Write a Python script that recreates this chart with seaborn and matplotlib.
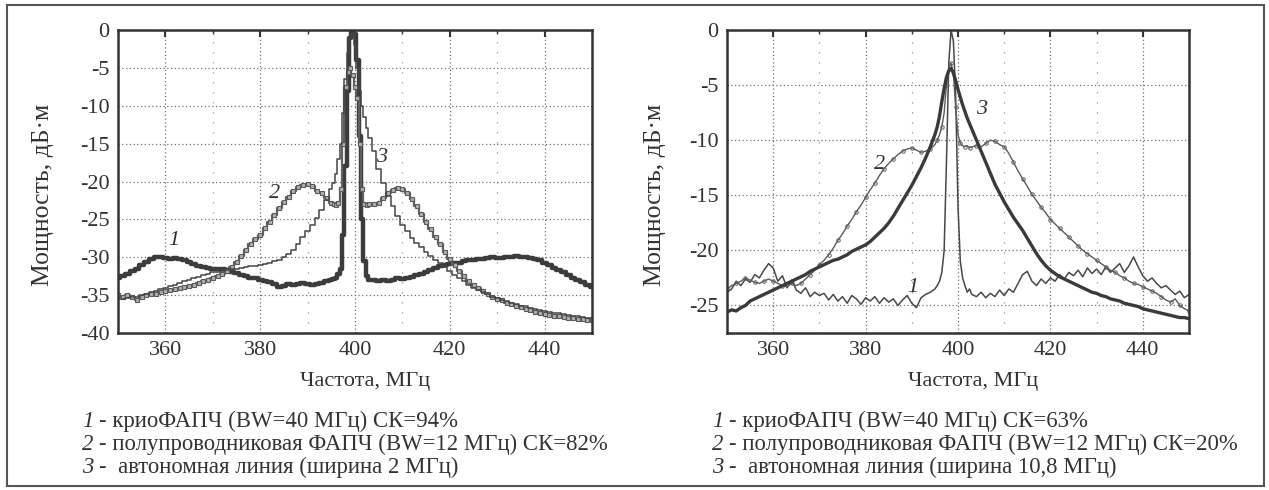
import numpy as np
import seaborn as sns
import matplotlib.pyplot as plt
from matplotlib.ticker import MultipleLocator
from matplotlib.patches import Rectangle

# frequency grid, MHz (finer steps around the carrier)
freq = np.concatenate([np.arange(350, 395.5, 1), np.arange(395.5, 403.5, 0.5), np.arange(404, 451, 1)])

# left panel: 1 - cryo PLL, 2 - semiconductor PLL, 3 - free running line
left_1 = [-32.8, -32.5, -32.2, -31.8, -31.5, -31.0, -30.6, -30.2, -30.0, -30.0,
          -30.1, -30.2, -30.1, -30.2, -30.4, -30.6, -30.9, -31.1, -31.3, -31.4,
          -31.5, -31.6, -31.6, -31.7, -31.9, -32.1, -32.3, -32.5, -32.7, -32.8,
          -33.0, -33.1, -33.3, -33.5, -33.9, -33.8, -33.5, -33.6, -33.5, -33.4,
          -33.5, -33.6, -33.5, -33.4, -33.2, -33.0,
          -32.9, -32.7, -32.2, -31.5, -27.0, -18.0, -8.0, -1.0, 0.0, -0.5, -4.0, -14.0, -25.0, -30.5, -32.5, -33.0,
          -33.0, -33.1, -33.0, -33.2, -33.0, -32.8, -32.9, -32.7, -32.6, -32.4,
          -32.2, -32.0, -31.7, -31.4, -31.2, -31.0, -30.9, -30.8, -30.7, -30.5,
          -30.4, -30.3, -30.2, -30.2, -30.1, -30.0, -30.1, -30.1, -30.0, -30.0,
          -29.9, -30.0, -30.0, -30.1, -30.2, -30.4, -30.7, -31.0, -31.4, -31.7,
          -32.0, -32.3, -32.7, -33.0, -33.3, -33.6, -33.9]
left_2 = [-35.0, -35.2, -35.0, -35.3, -35.6, -35.2, -35.0, -34.8, -34.8, -34.6,
          -34.5, -34.3, -34.2, -34.0, -33.9, -33.8, -33.6, -33.4, -33.2, -33.0,
          -32.8, -32.5, -32.2, -31.8, -31.3, -30.6, -29.8, -29.0, -28.3, -27.6,
          -27.0, -26.2, -25.3, -24.4, -23.5, -22.7, -22.0, -21.3, -20.7, -20.4,
          -20.3, -20.6, -21.2, -21.5, -22.2, -22.8,
          -23.0, -23.1, -22.8, -21.0, -15.0, -7.5, -5.5, -5.0, -6.0, -7.5, -9.0, -15.0, -21.0, -23.0, -23.1, -23.0,
          -23.0, -22.8, -22.2, -21.5, -21.1, -20.8, -21.0, -21.5, -22.3, -23.2,
          -24.3, -25.3, -26.3, -27.3, -28.3, -29.3, -30.2, -31.0, -31.8, -32.5,
          -33.1, -33.6, -34.1, -34.5, -34.9, -35.2, -35.5, -35.7, -36.0, -36.2,
          -36.4, -36.6, -36.8, -37.0, -37.2, -37.3, -37.5, -37.6, -37.7, -37.8,
          -37.9, -38.0, -38.0, -38.1, -38.2, -38.3, -38.3]
left_3 = [-35.5, -35.5, -35.4, -35.3, -35.2, -35.0, -34.8, -34.6, -34.4, -34.2,
          -34.0, -33.8, -33.6, -33.4, -33.2, -33.0, -32.8, -32.6, -32.4, -32.2,
          -32.0, -31.9, -31.8, -31.7, -31.6, -31.5, -31.4, -31.3, -31.2, -31.1,
          -31.0, -30.9, -30.7, -30.5, -30.3, -30.0, -29.6, -29.0, -28.3, -27.3,
          -26.5, -25.7, -24.8, -23.8, -22.5, -21.0,
          -20.2, -19.0, -17.0, -15.0, -11.0, -6.5, -3.0, -1.0, -0.5, -2.0, -5.0, -8.0, -10.0, -11.5, -13.0, -14.3,
          -16.0, -18.3, -20.2, -21.9, -23.3, -24.6, -25.7, -26.6, -27.4, -28.1,
          -28.7, -29.3, -29.8, -30.3, -30.8, -31.3, -31.8, -32.3, -32.8, -33.2,
          -33.6, -34.0, -34.3, -34.6, -34.9, -35.2, -35.4, -35.6, -35.8, -36.0,
          -36.2, -36.4, -36.5, -36.7, -36.8, -37.0, -37.1, -37.2, -37.3, -37.4,
          -37.5, -37.6, -37.7, -37.8, -37.9, -38.0, -38.0]

# right panel
right_1 = [-23.8, -23.5, -22.8, -23.2, -22.6, -22.9, -22.2, -22.5, -21.8, -21.2,
           -21.6, -22.8, -22.3, -23.4, -22.7, -23.6, -23.9, -23.4, -24.2, -23.8,
           -24.1, -23.9, -24.5, -24.0, -24.6, -24.2, -24.8, -24.1, -24.4, -24.9,
           -24.3, -24.6, -24.2, -24.8, -24.3, -24.7, -24.4, -25.0, -24.5, -24.1,
           -24.8, -25.2, -24.3, -24.0, -23.8, -23.5,
           -23.2, -22.8, -22.0, -20.0, -12.0, -3.0, 0.0, -1.0, -6.0, -16.0, -21.0, -22.5, -23.2, -23.8, -23.5, -24.0,
           -24.2, -23.8, -24.3, -23.9, -24.2, -23.6, -24.1, -23.5, -23.8, -23.0,
           -22.2, -21.9, -22.8, -23.2, -22.6, -23.0, -22.5, -22.8, -22.2, -22.6,
           -22.0, -22.3, -21.8, -22.4, -21.6, -22.1, -21.7, -22.2, -21.5, -22.0,
           -21.6, -21.2, -22.0, -21.4, -20.6, -21.5, -22.3, -22.8, -22.5, -23.0,
           -23.4, -23.2, -23.6, -24.0, -23.7, -24.3, -24.0]
right_2 = [-23.5, -23.2, -23.0, -22.8, -22.5, -22.7, -22.9, -23.0, -22.8, -22.6,
           -22.8, -23.0, -23.2, -23.3, -23.0, -23.2, -23.0, -22.6, -22.2, -21.8,
           -21.3, -20.9, -20.4, -19.8, -19.1, -18.5, -17.8, -17.2, -16.5, -15.9,
           -15.2, -14.5, -13.9, -13.2, -12.6, -12.1, -11.7, -11.3, -11.0, -10.8,
           -10.7, -10.9, -11.1, -11.0, -10.8, -10.4,
           -10.0, -9.5, -8.8, -7.5, -5.0, -3.5, -3.0, -4.0, -7.0, -9.5, -10.3, -10.5, -10.6, -10.5, -10.7, -10.6,
           -10.5, -10.6, -10.3, -10.0, -10.1, -10.4, -10.6, -11.2, -12.0, -12.8,
           -13.5, -14.2, -14.9, -15.5, -16.1, -16.6, -17.2, -17.6, -18.0, -18.4,
           -18.8, -19.2, -19.6, -20.0, -20.3, -20.6, -20.9, -21.2, -21.5, -21.8,
           -22.0, -22.3, -22.5, -22.8, -23.0, -23.1, -23.3, -23.5, -23.7, -23.9,
           -24.2, -24.5, -24.7, -24.4, -25.0, -25.3, -25.5]
right_3 = [-25.6, -25.4, -25.5, -25.2, -25.0, -24.6, -24.4, -24.2, -24.0, -23.8,
           -23.6, -23.4, -23.2, -23.0, -22.8, -22.6, -22.4, -22.2, -21.9, -21.7,
           -21.5, -21.3, -21.1, -20.9, -20.8, -20.6, -20.4, -20.1, -19.9, -19.7,
           -19.5, -19.2, -18.8, -18.4, -18.0, -17.5, -16.9, -16.2, -15.5, -14.8,
           -14.1, -13.3, -12.5, -11.6, -10.6, -9.5,
           -8.8, -7.8, -6.5, -5.3, -4.3, -3.7, -3.5, -3.9, -4.6, -5.4, -6.1, -6.8, -7.4, -8.0, -8.5, -9.0,
           -10.0, -11.0, -12.0, -13.0, -14.0, -14.8, -15.6, -16.3, -17.0, -17.6,
           -18.2, -18.9, -19.6, -20.3, -20.9, -21.4, -21.8, -22.1, -22.4, -22.6,
           -22.8, -23.0, -23.2, -23.4, -23.6, -23.8, -23.9, -24.1, -24.2, -24.4,
           -24.5, -24.6, -24.8, -24.9, -25.0, -25.1, -25.3, -25.4, -25.5, -25.6,
           -25.7, -25.8, -25.9, -26.0, -26.1, -26.1, -26.2]

captions_left = ["- криоФАПЧ (BW=40 МГц) СК=94%",
                 "- полупроводниковая ФАПЧ (BW=12 МГц) СК=82%",
                 "-  автономная линия (ширина 2 МГц)"]
captions_right = ["- криоФАПЧ (BW=40 МГц) СК=63%",
                  "- полупроводниковая ФАПЧ (BW=12 МГц) СК=20%",
                  "-  автономная линия (ширина 10,8 МГц)"]

sns.set_style("white")
plt.rcParams['font.family'] = ['Liberation Serif', 'DejaVu Serif']
plt.rcParams['axes.unicode_minus'] = False

W, H = 1269, 490
fig = plt.figure(figsize=(W / 100, H / 100), dpi=100)
ax1 = fig.add_axes([118 / W, 1 - 333 / H, 474 / W, 303 / H])
ax2 = fig.add_axes([727 / W, 1 - 333 / H, 462 / W, 303 / H])

dark = '#3c3c3c'
sns.lineplot(x=freq, y=left_1, ax=ax1, color=dark, lw=3.2, drawstyle='steps-mid')
sns.lineplot(x=freq, y=left_2, ax=ax1, color='#606060', lw=1.6, drawstyle='steps-mid',
             marker='s', markersize=3.5, markerfacecolor='#b0b0b0', markeredgecolor='#5a5a5a',
             markeredgewidth=0.8)
sns.lineplot(x=freq, y=left_3, ax=ax1, color='#454545', lw=1.1, drawstyle='steps-mid')

sns.lineplot(x=freq, y=right_1, ax=ax2, color='#484848', lw=1.1)
sns.lineplot(x=freq, y=right_2, ax=ax2, color='#5a5a5a', lw=1.0, marker='o', markersize=2.5,
             markerfacecolor='none', markeredgecolor='#606060', markeredgewidth=0.7, markevery=2)
sns.lineplot(x=freq, y=right_3, ax=ax2, color='#3a3a3a', lw=2.4)

for ax, ylo in ((ax1, -40), (ax2, -27.5)):
    ax.set_xlim(350, 450)
    ax.set_ylim(ylo, 0)
    ax.xaxis.set_major_locator(MultipleLocator(20))
    ax.xaxis.set_minor_locator(MultipleLocator(10))
    ax.yaxis.set_major_locator(MultipleLocator(5))
    ax.yaxis.set_minor_locator(MultipleLocator(2.5))
    ax.grid(which='major', linestyle=(0, (1, 2)), color='#707070', lw=0.9)
    ax.grid(which='minor', axis='x', linestyle=(0, (1, 7)), color='#909090', lw=0.9)
    ax.set_axisbelow(True)
    for s in ax.spines.values():
        s.set_color('#333333')
        s.set_linewidth(1.8)
    ax.tick_params(axis='y', which='major', direction='out', length=5, width=1.5,
                   labelsize=16, pad=1, colors='#333333')
    ax.tick_params(axis='y', which='minor', direction='in', length=3, width=1.0, color='#333333')
    ax.tick_params(axis='x', which='major', direction='in', top=True, length=5, width=1.5,
                   labelsize=16, pad=6, colors='#333333')
    ax.tick_params(axis='x', which='minor', direction='in', top=True, length=3, width=1.0, color='#333333')
    ax.set_xlabel('')
    ax.set_ylabel('')

# curve numbers
for ax, pts in ((ax1, [('1', 361.7, -27.8), ('2', 383.0, -21.6), ('3', 405.6, -16.8)]),
                (ax2, [('2', 383.0, -12.2), ('3', 405.0, -7.2), ('1', 390.3, -23.4)])):
    for t, x, y in pts:
        ax.text(x, y, t, fontsize=16, style='italic', color='#333333', ha='center', va='center')

# axis titles
tc = '#333333'
fig.text(43 / W, 1 - 195 / H, 'Мощность, дБ·м', rotation=90, fontsize=18.5, color=tc,
         ha='center', va='center')
fig.text(655 / W, 1 - 195 / H, 'Мощность, дБ·м', rotation=90, fontsize=18.5, color=tc,
         ha='center', va='center')
fig.text(365 / W, 1 - 381 / H, 'Частота, МГц', fontsize=16, color=tc, ha='center', va='center')
fig.text(973 / W, 1 - 381 / H, 'Частота, МГц', fontsize=16, color=tc, ha='center', va='center')

# captions
for x0, lines in ((82, captions_left), (712, captions_right)):
    for i, line in enumerate(lines):
        y = 1 - (421 + 23 * i) / H
        fig.text(x0 / W, y, str(i + 1), fontsize=16.4, style='italic', color=tc, va='center')
        fig.text((x0 + 17) / W, y, line, fontsize=16.4, color=tc, va='center')

# outer frame
fig.patches.append(Rectangle((7 / W, 1 - 486 / H), 1257 / W, 481 / H, transform=fig.transFigure,
                             fill=False, edgecolor='#555555', lw=1.5))

fig.savefig('out.png', dpi=100)
